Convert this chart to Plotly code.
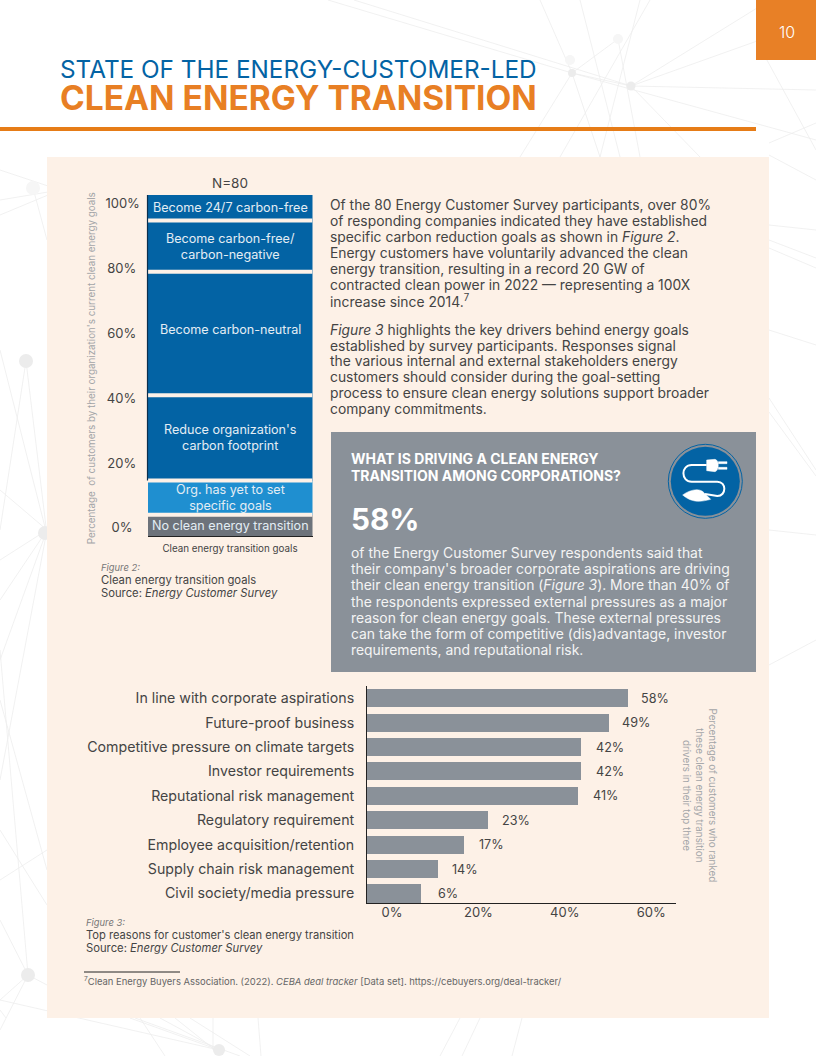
import plotly.graph_objects as go

FONT = "Inter"
W, H = 816, 1056
DARK = "#444444"
GREY = "#a3a5a8"
BLUE = "#0363a4"
PANEL = "#fdf1e7"
BAR_GREY = "#8a9199"

# ---- Figure 2 data (share of 80 respondents, stacked bottom to top)
goal_labels = ["No clean energy transition", "Org. has yet to set<br>specific goals",
               "Reduce organization's<br>carbon footprint", "Become carbon-neutral",
               "Become carbon-free/<br>carbon-negative", "Become 24/7 carbon-free"]
goal_values = [6.25, 10, 25, 36.25, 15, 7.5]
goal_colors = ["#6d737b", "#1f8fd0", BLUE, BLUE, BLUE, BLUE]
goal_label_shift = [0, 0, 0, 4, 0, 0]
goal_tick_text = ["0%&nbsp;&nbsp;", "20%&nbsp;", "40%&nbsp;", "60%&nbsp;", "80%&nbsp;", "100%"]
goal_tick_pos = [2.6, 21.4, 40.4, 59.4, 78.4, 97.4]

# ---- Figure 3 data
reason_labels = ["In line with corporate aspirations", "Future-proof business",
                 "Competitive pressure on climate targets", "Investor requirements",
                 "Reputational risk management", "Regulatory requirement",
                 "Employee acquisition/retention", "Supply chain risk management",
                 "Civil society/media pressure"]
reason_stated = ["58%", "49%", "42%", "42%", "41%", "23%", "17%", "14%", "6%"]
# bar ends as drawn, read against the printed axis
reason_drawn = [54.6, 50.2, 43.7, 43.7, 43.0, 22.2, 16.7, 10.6, 6.7]
reason_label_gap = [11, 11, 13, 13, 13, 12, 13, 12, 15]
reason_ticks = [0, 20, 40, 60]

para_1 = ["Of the 80 Energy Customer Survey participants, over 80%",
          "of responding companies indicated they have established",
          "specific carbon reduction goals as shown in <i>Figure 2</i>.",
          "Energy customers have voluntarily advanced the clean",
          "energy transition, resulting in a record 20 GW of",
          "contracted clean power in 2022 — representing a 100X",
          "increase since 2014.<sup>7</sup>"]
para_2 = ["<i>Figure 3</i> highlights the key drivers behind energy goals",
          "established by survey participants. Responses signal",
          "the various internal and external stakeholders energy",
          "customers should consider during the goal-setting",
          "process to ensure clean energy solutions support broader",
          "company commitments."]
box_body = ["of the Energy Customer Survey respondents said that",
            "their company's broader corporate aspirations are driving",
            "their clean energy transition (<i>Figure 3</i>). More than 40% of",
            "the respondents expressed external pressures as a major",
            "reason for clean energy goals. These external pressures",
            "can take the form of competitive (dis)advantage, investor",
            "requirements, and reputational risk."]

# faint network decoration behind the page: pairs of end points in page pixels
net_lines = [((354,0),(631,86)),((328,0),(572,73)),((572,73),(631,86)),((572,73),(816,140)),
             ((631,86),(816,20)),((631,86),(816,90)),((631,86),(700,157)),((572,73),(600,157)),
             ((572,73),(520,157)),((618,39),(572,73)),((540,0),(572,73)),((580,0),(620,157)),
             ((618,39),(640,157)),((640,0),(600,157)),((650,0),(560,157)),((631,86),(770,0)),
             ((756,40),(816,150)),((769,143),(816,123)),((769,155),(816,180)),((769,225),(816,230)),
             ((769,240),(816,258)),((769,248),(816,268)),((769,330),(816,345)),((769,398),(816,470)),
             ((769,412),(816,476)),((769,530),(816,535)),((769,665),(816,640)),
             ((60,190),(0,170)),((60,190),(0,200)),((60,190),(0,215)),((33,188),(47,240)),
             ((26,361),(0,530)),((26,361),(47,535)),((0,350),(47,535)),((0,490),(47,530)),
             ((0,560),(47,530)),((0,600),(47,530)),((0,660),(47,530)),((47,530),(0,780)),
             ((0,700),(47,870)),((0,650),(28,975)),((0,880),(47,850)),((0,830),(47,905)),
             ((28,975),(0,1000)),((28,975),(0,920)),((28,975),(47,985)),((28,975),(0,1030)),
             ((0,1000),(219,1050)),((130,1018),(219,1050)),((135,1018),(240,1056)),
             ((160,1018),(219,1050)),((175,1018),(215,1050)),((190,1018),(250,1056)),
             ((213,1018),(213,1050)),((258,1018),(261,1056)),((460,1018),(440,1056)),
             ((480,1018),(462,1056)),((522,1018),(512,1056)),((140,1018),(165,1056)),
             ((0,1010),(6,1018))]
net_nodes = [(572,73,4,"#ececec"),(631,86,4.5,"#ececec"),(570,60,5,"#f6f6f6"),(618,39,5,"#f6f6f6"),
             (33,188,7,"#f6f6f6"),(26,361,7,"#ececec"),(45,533,7,"#ececec"),(28,975,7,"#ececec"),
             (219,1050,6,"#ececec")]


def xp(x):
    return x / W


def yp(y):
    return 1 - y / H


def rect(x0, y0, x1, y1, color):
    return dict(type="rect", xref="paper", yref="paper", x0=xp(x0), x1=xp(x1), y0=yp(y0), y1=yp(y1),
                fillcolor=color, line_width=0, layer="below")


def seg(x0, y0, x1, y1, color, width):
    return dict(type="line", xref="paper", yref="paper", x0=xp(x0), x1=xp(x1), y0=yp(y0), y1=yp(y1),
                line=dict(color=color, width=width), layer="below")


def disc(cx, cy, r, fill, line=None, lw=0, layer="below"):
    return dict(type="circle", xref="paper", yref="paper", x0=xp(cx - r), x1=xp(cx + r), y0=yp(cy + r),
                y1=yp(cy - r), fillcolor=fill, line=dict(color=line or fill, width=lw), layer=layer)


def label(text, x, y, size, color=DARK, anchor="left", angle=0, weight=None, style=None):
    font = dict(family=FONT, size=size, color=color)
    if weight:
        font["weight"] = weight
    if style:
        font["style"] = style
    return dict(text=text, xref="paper", yref="paper", x=xp(x), y=yp(y), xanchor=anchor, yanchor="middle",
                showarrow=False, font=font, textangle=angle, borderpad=0, borderwidth=0)


def icon_path(cmds):
    # icon outlines written in the 3x crop space of the icon, mapped to the page
    out = []
    for c in cmds:
        if isinstance(c, str):
            out.append(c)
        else:
            out.append(f"{xp(660 + c[0] / 3):.5f},{yp(440 + c[1] / 3):.5f}")
    return " ".join(out)


shapes = [seg(*a, *b, "#eeeeee", 0.8) for a, b in net_lines]
shapes += [disc(x, y, r, c) for x, y, r, c in net_nodes]
shapes += [rect(47, 157, 769, 1018, PANEL),
           rect(756, 0, 816, 60, "#e88026"),
           rect(0, 127, 756, 131, "#e67c17"),
           rect(331, 432, 756, 672, BAR_GREY),
           seg(84, 972, 180, 972, "#222222", 1)]
# left axis rule, only alongside the blue segments as in the source
shapes.append(dict(type="line", xref="x domain", yref="y", x0=0, x1=0, y0=sum(goal_values[:2]), y1=100,
                   line=dict(color="#0b2f4d", width=1.2)))
# icon
IL = "above"
shapes += [disc(705.3, 481.3, 37, "rgba(0,0,0,0)", BLUE, 1, IL), disc(705.3, 481.3, 34.5, BLUE, None, 0, IL)]
shapes.append(dict(type="path", xref="paper", yref="paper", layer=IL, line=dict(color="white", width=2),
                   path=icon_path(["M", (140, 75), "L", (95, 75), "C", (62, 75), (62, 125), (95, 125), "L", (172, 125),
                                   "C", (200, 125), (200, 168), (172, 168), "L", (135, 162)])))
shapes.append(dict(type="path", xref="paper", yref="paper", layer=IL, fillcolor="white", line=dict(color="white", width=0.5),
                   path=icon_path(["M", (68, 165), "C", (88, 150), (118, 142), (132, 158), "L", (152, 178),
                                   "C", (128, 184), (100, 192), (68, 165), "Z"])))
shapes.append(dict(type="path", xref="paper", yref="paper", layer=IL, fillcolor="white", line=dict(color="white", width=0.5),
                   path=icon_path(["M", (140, 60), "L", (165, 58), "C", (178, 60), (178, 92), (165, 95), "L", (140, 92), "Z"])))
shapes.append(dict(type="path", xref="paper", yref="paper", layer=IL, fillcolor="white", line=dict(color="white", width=0.5),
                   path=icon_path(["M", (175, 65), "L", (201, 65), "L", (201, 71), "L", (175, 71), "Z",
                                   "M", (175, 82), "L", (201, 82), "L", (201, 88), "L", (175, 88), "Z"])))

fig = go.Figure()

# Figure 2: stacked bar
for name, val, col in zip(goal_labels, goal_values, goal_colors):
    fig.add_trace(go.Bar(x=[0], y=[val], width=1, marker=dict(color=col, line_width=0),
                         name=name.replace("<br>", " "), xaxis="x", yaxis="y", showlegend=False, hoverinfo="name+y"))
gap_x, gap_y, running = [], [], 0
for val in goal_values[:-1]:
    running += val
    gap_x += [-0.5, 0.5, None]
    gap_y += [running, running, None]
fig.add_trace(go.Scatter(x=gap_x, y=gap_y, mode="lines", line=dict(color=PANEL, width=4), xaxis="x", yaxis="y",
                         showlegend=False, hoverinfo="skip"))

# Figure 3: horizontal bar
axis_start = -5.79
fig.add_trace(go.Bar(y=reason_labels, x=[v - axis_start for v in reason_drawn], base=axis_start, orientation="h",
                     width=0.74, marker=dict(color=BAR_GREY, line_width=0), xaxis="x2", yaxis="y2", showlegend=False,
                     customdata=reason_stated, hovertemplate="%{y}: %{customdata}<extra></extra>"))

ann = []
# stacked-bar labels from cumulative positions
running = 0
for name, val, shift in zip(goal_labels, goal_values, goal_label_shift):
    ann.append(dict(text=name, xref="x", yref="y", x=0, y=running + val / 2, yshift=shift, showarrow=False,
                    font=dict(family=FONT, size=12.6, color="#e3edf4"), align="center"))
    running += val
# bar-end labels
for name, stated, val, gap in zip(reason_labels, reason_stated, reason_drawn, reason_label_gap):
    ann.append(dict(text=stated, xref="x2", yref="y2", x=val, y=name, xanchor="left", xshift=gap, showarrow=False,
                    font=dict(family=FONT, size=12.6, color=DARK)))

ann += [label("N=80", 230, 183, 13.5, anchor="center"),
        label("Figure 2:", 101, 567, 9.4, "#777777", style="italic"),
        label("Clean energy transition goals", 101, 580, 11.25),
        label("Source: <i>Energy Customer Survey</i>", 101, 593, 11.25),
        label("Figure 3:", 86, 922, 9.4, "#777777", style="italic"),
        label("Top reasons for customer's clean energy transition", 86, 935, 11.15),
        label("Source: <i>Energy Customer Survey</i>", 86, 948, 11.25),
        label("<sup>7</sup>Clean Energy Buyers Association. (2022). <i>CEBA deal tracker</i> [Data set]. https://cebuyers.org/deal-tracker/",
              84, 981, 9.45, "#666666"),
        label("Percentage of customers who ranked<br>these clean energy transition<br>drivers in their top three",
              699.5, 795, 9.8, GREY, anchor="center", angle=90),
        label("STATE OF THE ENERGY-CUSTOMER-LED", 60, 69, 24.3, BLUE),
        label("CLEAN ENERGY TRANSITION", 60, 98, 33.5, "#e87f24", weight=700),
        label("10", 787, 32, 16, "white", anchor="center", weight=300),
        label("WHAT IS DRIVING A CLEAN ENERGY", 351, 458, 14, "white", weight=700),
        label("TRANSITION AMONG CORPORATIONS?", 351, 475, 14, "white", weight=700),
        label("58%", 351, 519, 29.7, "white", weight=700)]
for i, line in enumerate(para_1):
    ann.append(label(line, 330, 205 + i * 16, 13.85))
for i, line in enumerate(para_2):
    ann.append(label(line, 330, 329.5 + i * 16, 13.85))
for i, line in enumerate(box_body):
    ann.append(label(line, 351, 553 + i * 16.2, 13.9, "#f4f4f4"))

fig.update_layout(
    width=W, height=H, margin=dict(l=0, r=0, t=0, b=0, pad=0), paper_bgcolor="white", plot_bgcolor="rgba(0,0,0,0)",
    barmode="stack", bargap=0, showlegend=False, font=dict(family=FONT, color=DARK),
    shapes=shapes, annotations=ann,
    xaxis=dict(domain=[xp(147.5), xp(312.5)], range=[-0.5, 0.5], showticklabels=False, ticks="", showgrid=False,
               zeroline=False, showline=True, linecolor="#222222", linewidth=1, fixedrange=True,
               title=dict(text="Clean energy transition goals", standoff=9, font=dict(family=FONT, size=9.8, color=DARK))),
    yaxis=dict(domain=[yp(536), yp(195)], range=[0, 100], tickvals=goal_tick_pos, ticktext=goal_tick_text, ticks="outside",
               ticklen=4, tickcolor="rgba(0,0,0,0)", tickfont=dict(family=FONT, size=13, color=DARK), showgrid=False,
               zeroline=False, showline=False, fixedrange=True,
               title=dict(text="Percentage  of customers by their organization's current clean energy goals&nbsp;&nbsp;",
                          standoff=8, font=dict(family=FONT, size=9.8, color=GREY))),
    xaxis2=dict(domain=[xp(367), xp(676)], anchor="y2", range=[axis_start, 65.74], tickvals=reason_ticks,
                ticktext=[f"{t}%" for t in reason_ticks], ticks="", ticklabelstandoff=-3,
                tickfont=dict(family=FONT, size=13, color=DARK),
                showgrid=False, zeroline=False, showline=True, linecolor="#222222", linewidth=1, fixedrange=True),
    yaxis2=dict(domain=[yp(903), yp(686)], anchor="x2", type="category", categoryorder="array", categoryarray=reason_labels,
                range=[8.39, -0.5], ticks="outside", ticklen=9, tickcolor="rgba(0,0,0,0)",
                tickfont=dict(family=FONT, size=14.2, color=DARK), showgrid=False, zeroline=False, showline=True,
                linecolor="#222222", linewidth=1, fixedrange=True),
)

fig.write_html("out.html", post_script="document.body.style.margin='0';document.documentElement.style.overflow='hidden';",
               config={"displayModeBar": False})
